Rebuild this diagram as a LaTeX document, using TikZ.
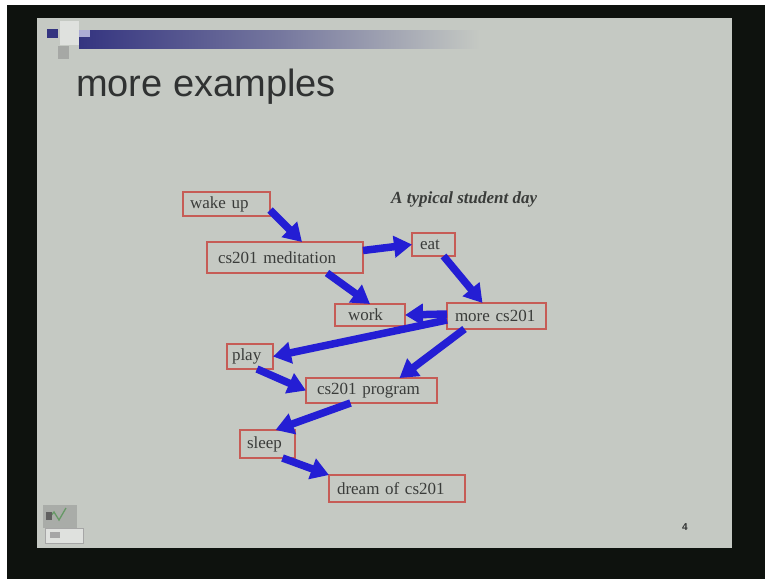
\documentclass[tikz,border=0pt]{standalone}
\usepackage{fontspec}
\setmainfont{Liberation Serif}
\newfontfamily\slidesans{Liberation Sans}
\usetikzlibrary{arrows.meta}
\definecolor{framecol}{RGB}{14,18,14}
\definecolor{slidebg}{RGB}{197,201,195}
\definecolor{barblue}{RGB}{52,52,128}
\definecolor{lavender}{RGB}{172,172,212}
\definecolor{boxred}{RGB}{198,92,86}
\definecolor{flowblue}{RGB}{36,30,212}
\definecolor{inkgray}{RGB}{58,60,58}
\definecolor{titlegray}{RGB}{48,50,50}
\begin{document}
\begin{tikzpicture}[x=1pt,y=-1pt,
  stepbox/.style={draw=boxred, line width=1.6pt, inner ysep=0pt, outer sep=0pt,
    align=left, anchor=north west, text=inkgray, font=\fontsize{17}{19}\selectfont},
  flow/.style={draw=flowblue, line width=7.5pt, -{Triangle[width=21pt,length=18pt]}}
]
\useasboundingbox (0,0) rectangle (765,579);

% projector frame and slide
\fill[white] (0,0) rectangle (765,579);
\fill[framecol] (7,5) rectangle (765,579);
\fill[slidebg] (37,18) rectangle (732,548);

% slide master decoration
\fill[white!45!slidebg] (60,21) rectangle (79,45);
\fill[barblue] (47,29) rectangle (58,38);
\fill[gray!45!slidebg] (58,46) rectangle (69,59);
\shade[left color=barblue, right color=slidebg, middle color=barblue!55!slidebg] (79,30) rectangle (480,48);
\fill[lavender] (79,30) rectangle (90,37);

% title
\node[anchor=base west, inner sep=0pt, text=titlegray,
  font=\slidesans\fontsize{38}{41}\selectfont] (title) at (76,96) {more examples};

% caption
\node[anchor=base west, inner sep=0pt, text=inkgray,
  font=\bfseries\itshape\fontsize{17}{19}\selectfont] (caption) at (391,203) {A typical student day};

% activities
\node[stepbox, inner xsep=7pt,  text width=73pt,  minimum height=24pt] (wake)  at (183,192) {wake up};
\node[stepbox, inner xsep=11pt, text width=134pt, minimum height=31pt] (med)   at (207,242) {cs201 meditation};
\node[stepbox, inner xsep=8pt,  text width=27pt,  minimum height=23pt] (eat)   at (412,233) {eat};
\node[stepbox, inner xsep=13pt, text width=44pt,  minimum height=22pt] (work)  at (335,304) {work};
\node[stepbox, inner xsep=8pt,  text width=83pt,  minimum height=26pt] (more)  at (447,303) {more cs201};
\node[stepbox, inner xsep=5pt,  text width=36pt,  minimum height=25pt] (play)  at (227,344) {play};
\node[stepbox, inner xsep=11pt, text width=109pt, minimum height=25pt] (prog)  at (306,378) {cs201 program};
\node[stepbox, inner xsep=7pt,  text width=41pt,  minimum height=28pt] (sleep) at (240,430) {sleep};
\node[stepbox, inner xsep=8pt,  text width=120pt, minimum height=27pt] (dream) at (329,475) {dream of cs201};

% transitions
\draw[flow] ([yshift=-6pt]wake.east) -- ([xshift=17pt]med.north);
\draw[flow] ([yshift=7pt]med.east) -- (eat.west);
\draw[flow] ([xshift=42pt]med.south) -- (work.north);
\draw[flow] ([xshift=10pt]eat.south) -- ([xshift=-14pt]more.north);
\draw[flow] ([yshift=2pt]more.west) -- (work.east);
\draw[flow] ([yshift=-4pt]more.west) -- (play.east);
\draw[flow] ([xshift=-32pt]more.south) -- ([xshift=28pt]prog.north);
\draw[flow] ([xshift=7pt]play.south) -- (prog.west);
\draw[flow] ([xshift=-21pt]prog.south) -- ([xshift=8pt]sleep.north);
\draw[flow] ([xshift=15pt]sleep.south) -- (dream.north west);

% page number
\node[text=titlegray, font=\slidesans\bfseries\fontsize{10}{11}\selectfont, inner sep=0pt] (pagenum) at (685,527) {4};

% slide-show navigation icon
\fill[gray!40!slidebg] (43,505) rectangle (77,528);
\draw[gray!80!green, line width=1.3pt] (49,518) -- (54,512) -- (59,520) -- (66,508);
\fill[gray!75!black] (46,512) rectangle (52,520);
\draw[gray!70, fill=white!45!slidebg, line width=1pt] (45,528) rectangle (83,543);
\fill[gray!70] (50,532) rectangle (60,538);
\end{tikzpicture}
\end{document}
